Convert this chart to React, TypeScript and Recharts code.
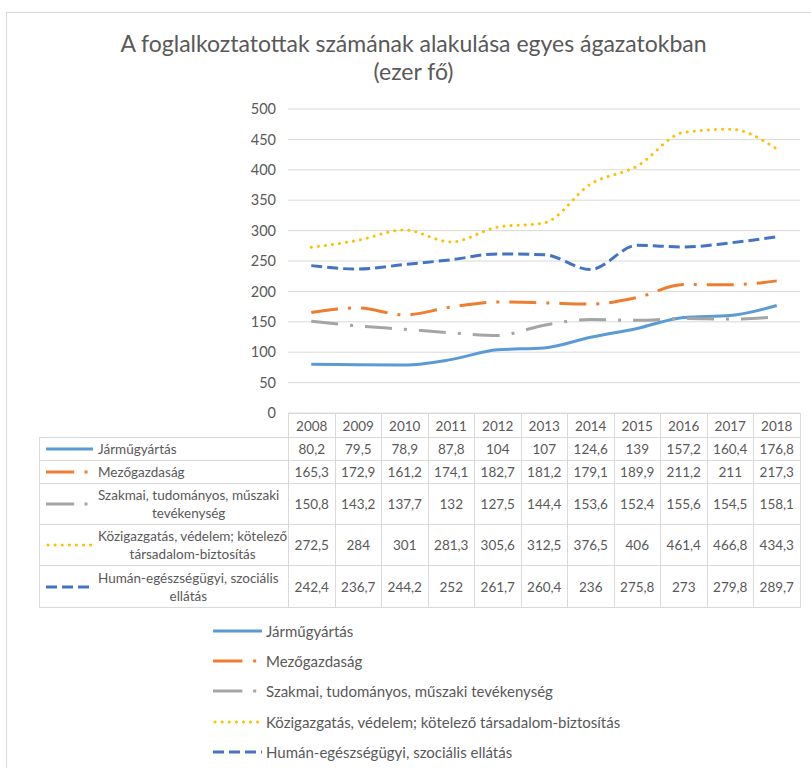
import { LineChart, Line, XAxis, YAxis, CartesianGrid } from 'recharts';

const years = ['2008', '2009', '2010', '2011', '2012', '2013', '2014', '2015', '2016', '2017', '2018'];
const jarmu = [80.2, 79.5, 78.9, 87.8, 104, 107, 124.6, 139, 157.2, 160.4, 176.8];
const mezo = [165.3, 172.9, 161.2, 174.1, 182.7, 181.2, 179.1, 189.9, 211.2, 211, 217.3];
const szakmai = [150.8, 143.2, 137.7, 132, 127.5, 144.4, 153.6, 152.4, 155.6, 154.5, 158.1];
const kozig = [272.5, 284, 301, 281.3, 305.6, 312.5, 376.5, 406, 461.4, 466.8, 434.3];
const human = [242.4, 236.7, 244.2, 252, 261.7, 260.4, 236, 275.8, 273, 279.8, 289.7];
const yTicks = [0, 50, 100, 150, 200, 250, 300, 350, 400, 450, 500];

const title = 'A foglalkoztatottak számának alakulása egyes ágazatokban';
const subtitle = '(ezer fő)';

interface SeriesDef {
  key: string;
  name: string;
  tableName: string;
  values: number[];
  color: string;
  dash?: string;
  cap: 'butt' | 'round';
}

const series: SeriesDef[] = [
  { key: 'jarmu', name: 'Járműgyártás', tableName: 'Járműgyártás', values: jarmu, color: '#5B9BD5', cap: 'butt' },
  { key: 'mezo', name: 'Mezőgazdaság', tableName: 'Mezőgazdaság', values: mezo, color: '#ED7D31', dash: '27 10 3 10', cap: 'butt' },
  {
    key: 'szakmai',
    name: 'Szakmai, tudományos, műszaki tevékenység',
    tableName: 'Szakmai, tudományos, műszaki\ntevékenység',
    values: szakmai,
    color: '#A5A5A5',
    dash: '27 12 3 12',
    cap: 'butt',
  },
  {
    key: 'kozig',
    name: 'Közigazgatás, védelem; kötelező társadalom-biztosítás',
    tableName: 'Közigazgatás, védelem; kötelező\ntársadalom-biztosítás',
    values: kozig,
    color: '#FFC000',
    dash: '0.1 7',
    cap: 'round',
  },
  {
    key: 'human',
    name: 'Humán-egészségügyi, szociális ellátás',
    tableName: 'Humán-egészségügyi, szociális\nellátás',
    values: human,
    color: '#4472C4',
    dash: '11 5',
    cap: 'butt',
  },
];

const data = years.map((year, i) => {
  const row: Record<string, string | number> = { year };
  series.forEach((s) => {
    row[s.key] = s.values[i];
  });
  return row;
});

const fmt = (v: number) => String(v).replace('.', ',');

const FONT = 'Lato, "Open Sans", sans-serif';
const TEXT = '#595959';
const GRID = '#d9d9d9';

// legend key sample, shared by the table and the bottom legend
const Key = ({ s, width }: { s: SeriesDef; width: number }) => {
  let dash = s.dash;
  if (s.key === 'mezo' || s.key === 'szakmai') dash = `${width * 0.6} ${width * 0.22} 3 100`;
  return (
    <svg width={width} height={8} style={{ display: 'block', flex: 'none' }}>
      <line
        x1={s.cap === 'round' ? 2 : 0}
        y1={4}
        x2={width}
        y2={4}
        stroke={s.color}
        strokeWidth={3}
        strokeDasharray={dash}
        strokeLinecap={s.cap}
      />
    </svg>
  );
};

const rowHeights = [23, 23, 41, 41, 42];

const cell: React.CSSProperties = {
  border: `1px solid ${GRID}`,
  padding: 0,
  textAlign: 'center',
  verticalAlign: 'middle',
  fontSize: 13.5,
  color: TEXT,
};

export default function App() {
  return (
    <div
      style={{
        position: 'absolute',
        left: 0,
        top: 0,
        width: 811,
        height: 768,
        background: '#fff',
        fontFamily: FONT,
        overflow: 'hidden',
      }}
    >
      <div
        style={{
          position: 'absolute',
          left: 6,
          top: 12,
          width: 820,
          height: 800,
          borderTop: `1px solid ${GRID}`,
          borderLeft: `1px solid ${GRID}`,
        }}
      />
      <div
        style={{
          position: 'absolute',
          left: 8,
          top: 29,
          width: 811,
          textAlign: 'center',
          fontSize: 23,
          lineHeight: '28px',
          color: TEXT,
        }}
      >
        <div>{title}</div>
        <div>{subtitle}</div>
      </div>

      <div style={{ position: 'absolute', left: 0, top: 0 }}>
        <LineChart width={811} height={430} data={data} margin={{ top: 109, right: 11, bottom: 17, left: 0 }}>
          <CartesianGrid horizontal vertical={false} stroke={GRID} />
          <XAxis dataKey="year" hide padding={{ left: 23.25, right: 23.25 }} />
          <YAxis
            width={288}
            domain={[0, 500]}
            ticks={yTicks}
            interval={0}
            axisLine={false}
            tickLine={false}
            tickMargin={6}
            tick={{ fill: TEXT, fontSize: 14.5, fontFamily: FONT }}
          />
          {series.map((s) => (
            <Line
              key={s.key}
              type="monotone"
              dataKey={s.key}
              name={s.name}
              stroke={s.color}
              strokeWidth={3}
              strokeDasharray={s.dash}
              strokeLinecap={s.cap}
              dot={false}
              activeDot={false}
              isAnimationActive={false}
            />
          ))}
        </LineChart>
      </div>

      <table
        style={{
          position: 'absolute',
          left: 39,
          top: 413,
          borderCollapse: 'collapse',
          tableLayout: 'fixed',
          width: 249 + 46.5 * years.length,
          fontFamily: FONT,
        }}
      >
        <colgroup>
          <col style={{ width: 249 }} />
          {years.map((y) => (
            <col key={y} style={{ width: 46.5 }} />
          ))}
        </colgroup>
        <tbody>
          <tr style={{ height: 24 }}>
            <td style={{ ...cell, border: 'none' }} />
            {years.map((y) => (
              <td key={y} style={cell}>
                {y}
              </td>
            ))}
          </tr>
          {series.map((s, i) => (
            <tr key={s.key} style={{ height: rowHeights[i] }}>
              <td style={{ ...cell, textAlign: 'left' }}>
                <div style={{ display: 'flex', alignItems: 'center', paddingLeft: 6 }}>
                  <Key s={s} width={47} />
                  <div
                    style={{
                      display: 'inline-block',
                      whiteSpace: 'pre-line',
                      textAlign: 'center',
                      marginLeft: 5,
                      lineHeight: '18px',
                    }}
                  >
                    {s.tableName}
                  </div>
                </div>
              </td>
              {s.values.map((v, j) => (
                <td key={j} style={cell}>
                  {fmt(v)}
                </td>
              ))}
            </tr>
          ))}
        </tbody>
      </table>

      <div style={{ position: 'absolute', left: 213, top: 616 }}>
        {series.map((s) => (
          <div key={s.key} style={{ display: 'flex', alignItems: 'center', height: 30.2 }}>
            <Key s={s} width={49} />
            <span style={{ marginLeft: 4, fontSize: 15, color: TEXT }}>{s.name}</span>
          </div>
        ))}
      </div>
    </div>
  );
}
